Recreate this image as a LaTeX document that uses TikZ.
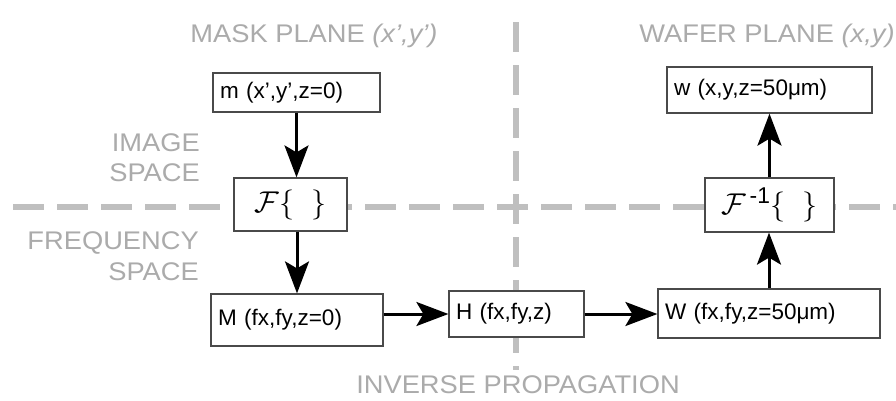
\documentclass[tikz,border=0pt]{standalone}
\usepackage{amsmath}
\usepackage{fontspec}
\setmainfont{Liberation Sans}
\newfontfamily\labfont[FakeStretch=1.07]{Liberation Sans}
\usetikzlibrary{arrows.meta,calc}
\definecolor{lbl}{HTML}{ABABAB}
\definecolor{dsh}{HTML}{BFBFBF}
\definecolor{edge}{HTML}{4A4A4A}
\begin{document}
\begin{tikzpicture}[x=1pt,y=-1pt,
  lab/.style={text=lbl, font=\labfont\fontsize{25.5}{30}\selectfont, inner sep=0pt},
  box/.style={draw=edge, line width=1.2pt, fill=white, font=\fontsize{22.5}{26}\selectfont, inner xsep=7pt, inner ysep=0pt, anchor=center, align=left},
  arr/.style={line width=3pt, -{Stealth[length=32pt,width=24pt,inset=7pt]}},
  guide/.style={dsh, line width=5.5pt}]
\fill[white] (0,0) rectangle (896,400);
\useasboundingbox (0,0) rectangle (896,400);
% guide lines
\coordinate (hl) at (13,207);
\coordinate (hr) at (896,207);
\coordinate (vt) at (516,22);
\coordinate (vb) at (516,370);
\draw[guide, dash pattern=on 31pt off 13pt] (hl) -- (hr);
\draw[guide, dash pattern=on 30pt off 13pt] (vt) -- (vb);
% labels
\node[lab] (mask) at (314,36) {MASK PLANE \textit{(x’,y’)}};
\node[lab] (wafer) at (767,36) {WAFER PLANE \textit{(x,y)}};
\node[lab, anchor=east] (img1) at (200,143) {IMAGE};
\node[lab, anchor=east] (img2) at (200,173) {SPACE};
\node[lab, anchor=east] (frq1) at (199,243) {FREQUENCY};
\node[lab, anchor=east] (frq2) at (199,272) {SPACE};
\node[lab] (inv) at (518,385) {INVERSE PROPAGATION};
% boxes
\node[box, text width=153pt, minimum height=39pt] (m) at (296.5,92.5) {m (x’,y’,z=0)};
\node[box, minimum width=113pt, minimum height=53pt, align=center] (F) at (290.5,204.5) {\scalebox{1.45}{$\mathcal{F}\{\;\;\}$}};
\node[box, text width=158pt, minimum height=52pt] (M) at (297,320) {M (fx,fy,z=0)};
\node[box, text width=121pt, minimum height=46pt] (H) at (516.5,314) {H (fx,fy,z)};
\node[box, text width=208pt, minimum height=49pt] (W) at (769,313.5) {W (fx,fy,z=50μm)};
\node[box, minimum width=129pt, minimum height=54pt, align=center] (Fi) at (769.5,205) {\scalebox{1.45}{$\mathcal{F}^{\,\text{-1}}\{\;\;\}$}};
\node[box, text width=191pt, minimum height=46pt] (w) at (769.5,90) {w (x,y,z=50μm)};
% arrows
\draw[arr] (m.south) -- (m.south |- F.north);
\draw[arr] (M.north |- F.south) -- (M.north);
\draw[arr] (M.east |- H.west) -- (H.west);
\draw[arr] (H.east) -- (W.west |- H.east);
\draw[arr] (W.north) -- (W.north |- Fi.south);
\draw[arr] (Fi.north) -- (Fi.north |- w.south);
\end{tikzpicture}
\end{document}
